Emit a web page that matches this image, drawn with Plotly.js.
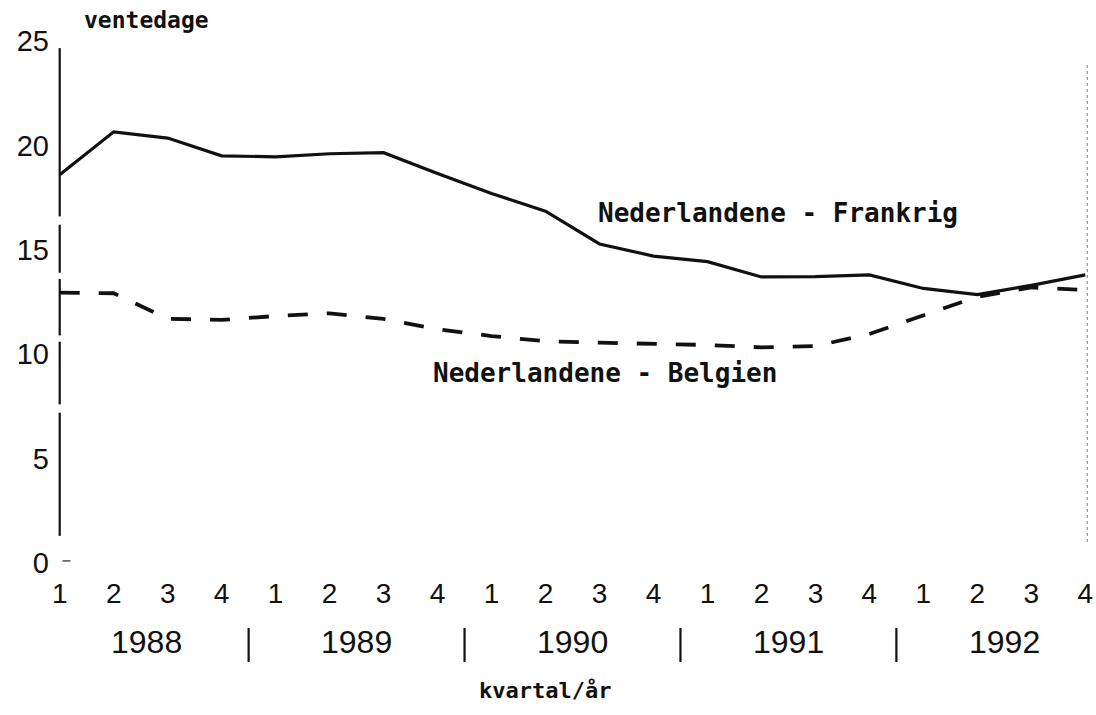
<!DOCTYPE html>
<html>
<head>
<meta charset="utf-8">
<script src="https://cdn.plot.ly/plotly-3.0.1.min.js"></script>
<style>
  html, body { margin: 0; padding: 0; background: #ffffff; }
  #chart { width: 1096px; height: 715px; }
</style>
</head>
<body>
<div id="chart"></div>
<script>
// ---- data ----
const quarterLabels = ["1","2","3","4","1","2","3","4","1","2","3","4","1","2","3","4","1","2","3","4"];
const years = ["1988", "1989", "1990", "1991", "1992"];
const frankrig = [18.6, 20.65, 20.35, 19.5, 19.45, 19.6, 19.65, 18.65, 17.7, 16.85,
                  15.28, 14.7, 14.43, 13.7, 13.72, 13.8, 13.15, 12.85, 13.3, 13.8];
const belgien  = [12.95, 12.92, 11.7, 11.64, 11.83, 11.96, 11.69, 11.2, 10.87, 10.62,
                  10.55, 10.49, 10.44, 10.33, 10.39, 10.97, 11.88, 12.75, 13.2, 13.07];
const yTicks = [0, 5, 10, 15, 20, 25];
const nameFrankrig = "Nederlandene - Frankrig";
const nameBelgien = "Nederlandene - Belgien";
const yTitle = "ventedage";
const xTitle = "kvartal/år";

// ---- build ----
const xIdx = quarterLabels.map((_, i) => i);
const mono = "DejaVu Sans Mono, monospace";
const sans = "Liberation Sans, Arial, sans-serif";
const ink = "#111111";

const traces = [
  { x: xIdx, y: frankrig, type: "scatter", mode: "lines", name: nameFrankrig,
    line: { color: ink, width: 3.2 }, hoverinfo: "skip" },
  { x: xIdx, y: belgien, type: "scatter", mode: "lines", name: nameBelgien,
    line: { color: ink, width: 3.8, dash: "20px,19px" }, hoverinfo: "skip" }
];

const annotations = [];
// year labels centred under each group of four quarters
years.forEach((yr, k) => {
  annotations.push({ x: k * 4 + 1.5 + (k === 0 ? 0.1 : 0), y: -0.1513, xref: "x", yref: "paper",
    yanchor: "middle", text: yr, showarrow: false, font: { family: sans, size: 32, color: ink } });
});
annotations.push({ x: 13.31, y: 16.76, xref: "x", yref: "y", text: nameFrankrig,
  showarrow: false, font: { family: mono, size: 26, color: ink, weight: "bold" } });
annotations.push({ x: 10.1, y: 9.1, xref: "x", yref: "y", text: nameBelgien,
  showarrow: false, font: { family: mono, size: 26, color: ink, weight: "bold" } });
annotations.push({ x: 1.61, y: 1.0402, xref: "x", yref: "paper", yanchor: "middle", text: yTitle,
  showarrow: false, font: { family: mono, size: 23, color: ink, weight: "bold" } });
annotations.push({ x: 8.99, y: -0.245, xref: "x", yref: "paper", yanchor: "middle", text: xTitle,
  showarrow: false, font: { family: mono, size: 22, color: ink, weight: "bold" } });

const shapes = [];
// y axis line, drawn in pieces like the scanned original
const axisPieces = [[24.66, 16.6], [16.2, 13.9], [13.6, 10.9], [10.6, 7.6], [7.2, 1.3]];
axisPieces.forEach(p => {
  shapes.push({ type: "line", xref: "x", yref: "y", x0: 0.0, x1: 0.0, y0: p[0], y1: p[1],
    line: { color: ink, width: 2.2 } });
});
// small tick at zero
shapes.push({ type: "line", xref: "x", yref: "y", x0: 0.05, x1: 0.2, y0: 0.1, y1: 0.1,
  line: { color: "#555", width: 1.5 } });
// year separators
for (let k = 1; k < years.length; k++) {
  shapes.push({ type: "line", xref: "x", yref: "paper", x0: k * 4 - 0.5, x1: k * 4 - 0.5,
    y0: -0.1245, y1: -0.1897, line: { color: ink, width: 2.2 } });
}
// faint dotted right edge (as in the scan)
shapes.push({ type: "line", xref: "x", yref: "y", x0: 19.04, x1: 19.04, y0: 1, y1: 24,
  line: { color: "#999", width: 1.5, dash: "dot" } });

const layout = {
  width: 1096, height: 715,
  margin: { l: 57.3, r: 8.3, t: 41, b: 152 },
  paper_bgcolor: "#ffffff", plot_bgcolor: "#ffffff",
  showlegend: false,
  xaxis: {
    range: [-0.05, 19.05], showgrid: false, zeroline: false, showline: false,
    tickmode: "array", tickvals: xIdx, ticktext: quarterLabels,
    ticks: "", ticklabelstandoff: 11,
    tickfont: { family: sans, size: 28, color: ink }
  },
  yaxis: {
    range: [0, 25], showgrid: false, zeroline: false, showline: false,
    tickmode: "array", tickvals: yTicks, ticktext: yTicks.map(String),
    ticks: "", ticklabelstandoff: 7,
    tickfont: { family: sans, size: 29, color: ink }
  },
  annotations: annotations,
  shapes: shapes
};

Plotly.newPlot("chart", traces, layout, { staticPlot: true, displayModeBar: false });
</script>
</body>
</html>
